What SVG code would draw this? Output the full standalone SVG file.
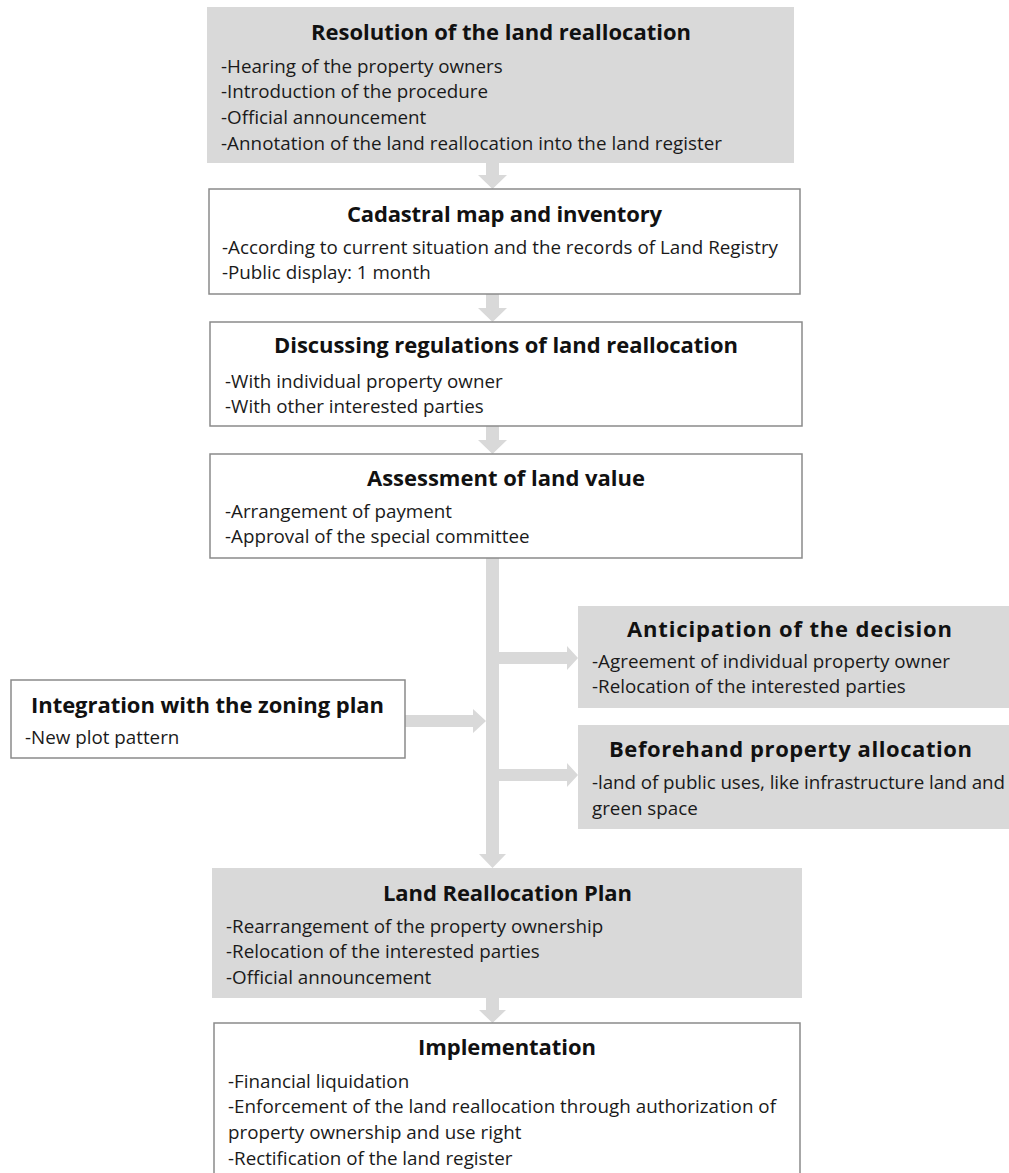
<svg xmlns="http://www.w3.org/2000/svg" width="1009" height="1173" viewBox="0 0 1009 1173">
<style>
.bg{fill:#ffffff}
.gray{fill:#d9d9d9;stroke:none}
.white{fill:#ffffff;stroke:#8a8a8a;stroke-width:1.5}
.arrow{fill:#d9d9d9;stroke:none}
.t{font-family:"Open Sans","Noto Sans","Liberation Sans",sans-serif;font-weight:bold;font-size:22px;fill:#111;text-anchor:middle}
.b{font-family:"Open Sans","Noto Sans","Liberation Sans",sans-serif;font-size:18.8px;fill:#1a1a1a}
</style>
<rect class="bg" x="0" y="0" width="1009" height="1173"/>

<g id="connectors">
  <polygon class="arrow" points="486,163 499,163 499,175 507,175 492.5,189 478,175 486,175"/>
  <polygon class="arrow" points="486,294 499,294 499,308 507,308 492.5,322 478,308 486,308"/>
  <polygon class="arrow" points="486,426 499,426 499,440 507,440 492.5,454 478,440 486,440"/>
  <polygon class="arrow" points="486,558 499,558 499,854 506,854 492.5,868 479,854 486,854"/>
  <polygon class="arrow" points="499,652 567,652 567,646 578,658 567,670 567,664 499,664"/>
  <polygon class="arrow" points="499,769 567,769 567,763 578,775 567,787 567,781 499,781"/>
  <polygon class="arrow" points="405,715 473,715 473,709 486,721 473,733 473,727 405,727"/>
  <polygon class="arrow" points="486,998 499,998 499,1010 506,1010 492.5,1023 479,1010 486,1010"/>
</g>

<g id="resolution">
  <rect class="gray" x="207" y="7" width="587" height="156"/>
  <text class="t" x="501" y="40" textLength="380">Resolution of the land reallocation</text>
  <text class="b" x="221" y="73">-Hearing of the property owners</text>
  <text class="b" x="221" y="98">-Introduction of the procedure</text>
  <text class="b" x="221" y="124">-Official announcement</text>
  <text class="b" x="221" y="150" textLength="501">-Annotation of the land reallocation into the land register</text>
</g>

<g id="cadastral">
  <rect class="white" x="209" y="189" width="591" height="105"/>
  <text class="t" x="504.5" y="222" textLength="315">Cadastral map and inventory</text>
  <text class="b" x="222" y="254" textLength="556">-According to current situation and the records of Land Registry</text>
  <text class="b" x="222" y="279">-Public display: 1 month</text>
</g>

<g id="discussing">
  <rect class="white" x="210" y="322" width="592" height="104"/>
  <text class="t" x="506" y="353" textLength="464">Discussing regulations of land reallocation</text>
  <text class="b" x="225" y="388">-With individual property owner</text>
  <text class="b" x="225" y="413">-With other interested parties</text>
</g>

<g id="assessment">
  <rect class="white" x="210" y="454" width="592" height="104"/>
  <text class="t" x="506" y="486" textLength="278">Assessment of land value</text>
  <text class="b" x="225" y="518">-Arrangement of payment</text>
  <text class="b" x="225" y="543">-Approval of the special committee</text>
</g>

<g id="anticipation">
  <rect class="gray" x="578" y="606" width="431" height="102"/>
  <text class="t" x="789.5" y="637" textLength="325">Anticipation of the decision</text>
  <text class="b" x="592" y="668" textLength="358">-Agreement of individual property owner</text>
  <text class="b" x="592" y="693">-Relocation of the interested parties</text>
</g>

<g id="integration">
  <rect class="white" x="11" y="680" width="394" height="78"/>
  <text class="t" x="207.5" y="713" textLength="353">Integration with the zoning plan</text>
  <text class="b" x="25" y="744">-New plot pattern</text>
</g>

<g id="beforehand">
  <rect class="gray" x="578" y="725" width="431" height="104"/>
  <text class="t" x="790.5" y="757" textLength="363">Beforehand property allocation</text>
  <text class="b" x="592" y="789" textLength="413">-land of public uses, like infrastructure land and</text>
  <text class="b" x="592" y="815">green space</text>
</g>

<g id="plan">
  <rect class="gray" x="212" y="868" width="590" height="130"/>
  <text class="t" x="507.5" y="901" textLength="249">Land Reallocation Plan</text>
  <text class="b" x="226" y="933">-Rearrangement of the property ownership</text>
  <text class="b" x="226" y="958">-Relocation of the interested parties</text>
  <text class="b" x="226" y="984">-Official announcement</text>
</g>

<g id="implementation">
  <rect class="white" x="214" y="1023" width="586" height="170"/>
  <text class="t" x="507" y="1055" textLength="178">Implementation</text>
  <text class="b" x="228" y="1088">-Financial liquidation</text>
  <text class="b" x="228" y="1113" textLength="548">-Enforcement of the land reallocation through authorization of</text>
  <text class="b" x="228" y="1139">property ownership and use right</text>
  <text class="b" x="228" y="1165">-Rectification of the land register</text>
</g>
</svg>
